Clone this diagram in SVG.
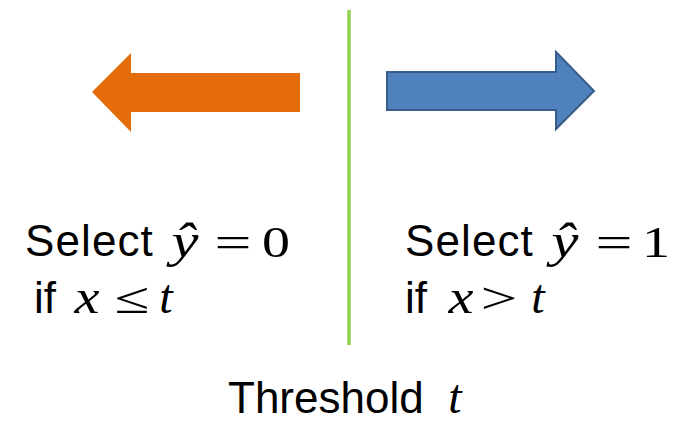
<svg xmlns="http://www.w3.org/2000/svg" width="679" height="422" viewBox="0 0 679 422">
  <style>
    .lbl { font-family: "Liberation Sans", Arial, sans-serif; font-size: 44px; fill: #000; }
    .sel { letter-spacing: 1.1px; }
    .mi { font-family: "Liberation Serif", "Times New Roman", serif; font-style: italic; font-size: 48px; fill: #000; text-anchor: middle; }
    .mo { font-family: "Liberation Serif", "Times New Roman", serif; font-size: 44px; fill: #000; text-anchor: middle; }
  </style>
  <rect width="679" height="422" fill="#ffffff"/>

  <g id="divider">
    <line x1="349" y1="10" x2="349" y2="345" stroke="#92d050" stroke-width="3.5"/>
  </g>

  <g id="arrow-left">
    <polygon points="300,73 131,73 131,53 92,92 131,132 131,112 300,112" fill="#e46c0a"/>
  </g>

  <g id="arrow-right">
    <polygon points="387,72 556,72 556,52 594,91 556,129 556,110 387,110" fill="#4f81bd" stroke="#385d8a" stroke-width="2" stroke-linejoin="miter"/>
  </g>

  <g id="rule-zero">
    <text class="lbl sel" x="25" y="256">Select</text>
    <text class="mi" x="185" y="257" textLength="27" lengthAdjust="spacingAndGlyphs">ŷ</text>
    <text class="mo" x="233" y="257" textLength="37" lengthAdjust="spacingAndGlyphs">=</text>
    <text class="mo" x="276" y="257" textLength="28" lengthAdjust="spacingAndGlyphs">0</text>
    <text class="lbl" x="34" y="313">if</text>
    <text class="mi" x="87" y="313" textLength="25" lengthAdjust="spacingAndGlyphs">x</text>
    <text class="mo" x="132" y="313" textLength="35" lengthAdjust="spacingAndGlyphs">≤</text>
    <text class="mi" x="166" y="313">t</text>
  </g>

  <g id="rule-one">
    <text class="lbl sel" x="405" y="256">Select</text>
    <text class="mi" x="565" y="257" textLength="27" lengthAdjust="spacingAndGlyphs">ŷ</text>
    <text class="mo" x="614" y="257" textLength="37" lengthAdjust="spacingAndGlyphs">=</text>
    <text class="mo" x="656" y="257" textLength="28" lengthAdjust="spacingAndGlyphs">1</text>
    <text class="lbl" x="405" y="313">if</text>
    <text class="mi" x="461" y="313" textLength="25" lengthAdjust="spacingAndGlyphs">x</text>
    <text class="mo" x="499" y="313" textLength="37" lengthAdjust="spacingAndGlyphs">&gt;</text>
    <text class="mi" x="538" y="313">t</text>
  </g>

  <g id="threshold">
    <text class="lbl" x="228" y="413">Threshold</text>
    <text class="mi" x="455" y="413">t</text>
  </g>
</svg>
